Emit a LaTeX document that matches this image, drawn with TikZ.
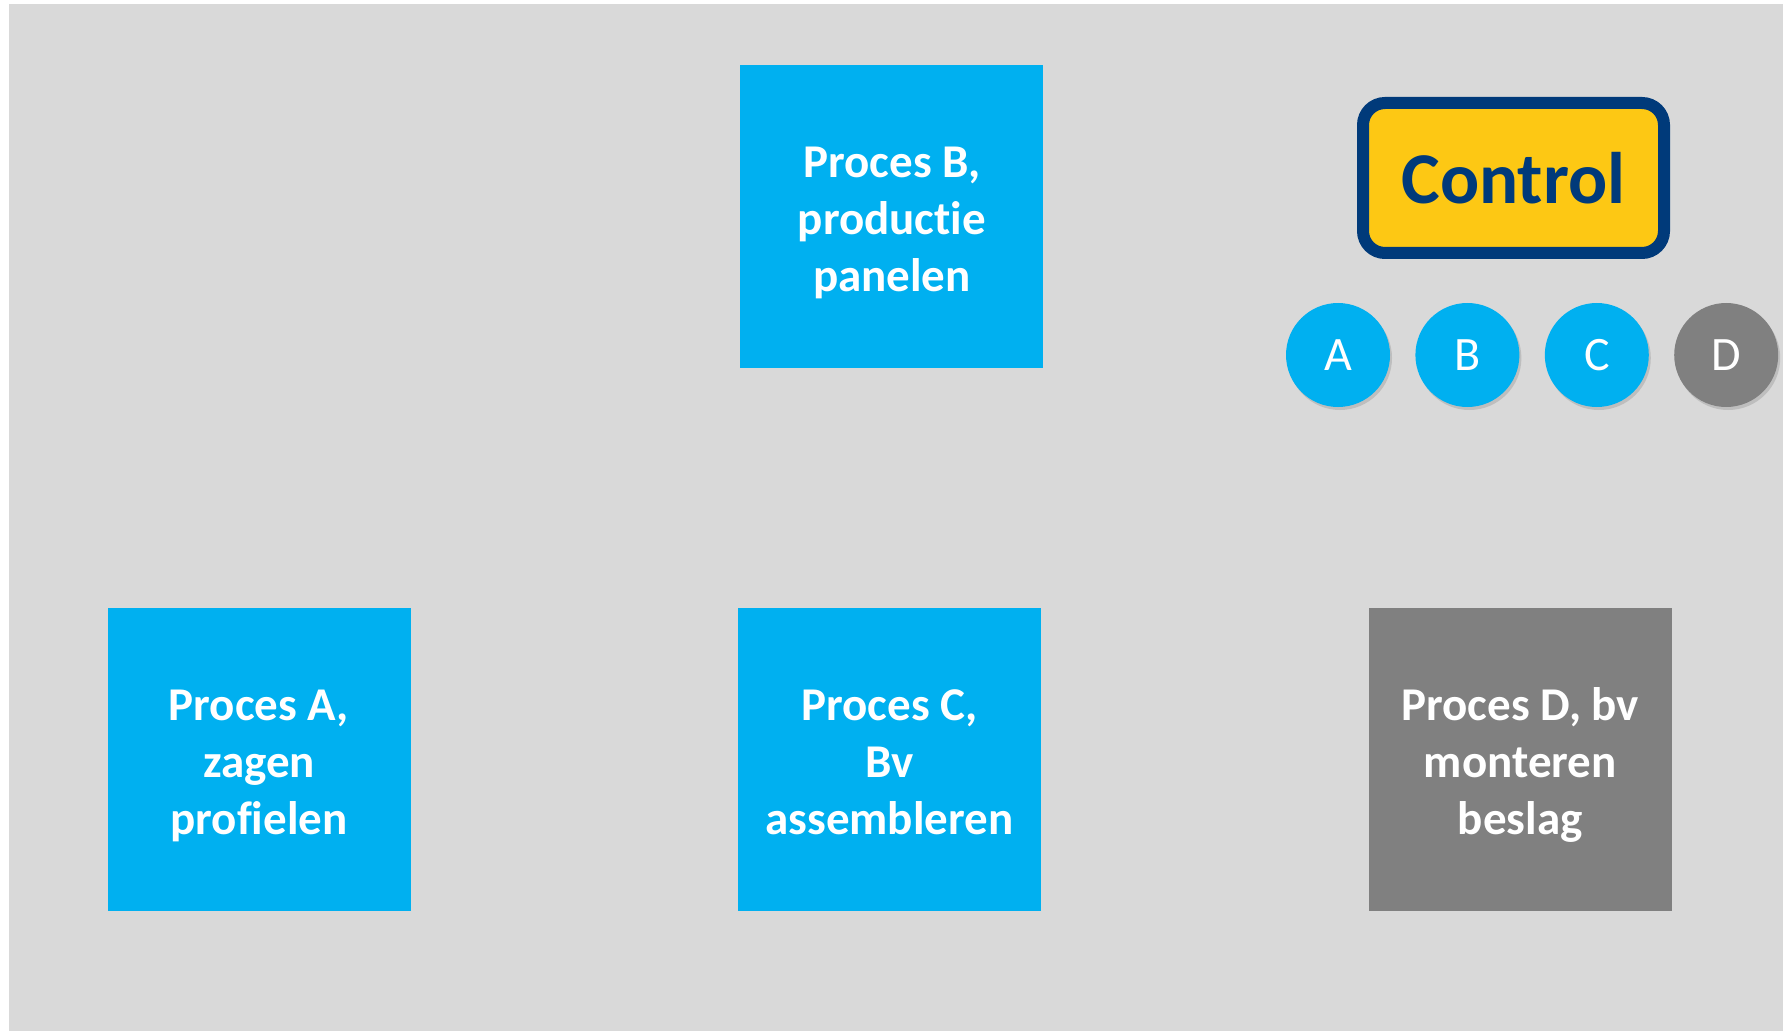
\documentclass[tikz,border=0pt]{standalone}
\usepackage{fontspec}
\setmainfont{Carlito}[RawFeature={-liga}]
\usetikzlibrary{positioning}
\usetikzlibrary{shadows}
\definecolor{procblue}{HTML}{00B0F0}
\definecolor{procgray}{HTML}{808080}
\definecolor{bggray}{HTML}{D9D9D9}
\definecolor{ctrlyellow}{HTML}{FDC814}
\definecolor{ctrlnavy}{HTML}{003A7A}
\newcommand{\ProcFont}{\fontsize{47}{57}\selectfont\bfseries}
\tikzstyle{proc} = [rectangle, fill=procblue, text=white, minimum size=303pt, inner sep=0pt, align=center, text height=150pt, text depth=0pt, font=\ProcFont]
\tikzstyle{procoff} = [proc, fill=procgray]
\tikzstyle{ctrl} = [rectangle, rounded corners=22pt, fill=ctrlyellow, draw=ctrlnavy, line width=12pt, minimum width=301pt, minimum height=150pt, text=ctrlnavy, font=\fontsize{73}{80}\selectfont\bfseries]
\tikzstyle{led} = [circle, fill=procblue, text=white, minimum size=104pt, inner sep=0pt, font=\fontsize{48}{50}\selectfont, drop shadow={shadow xshift=2pt, shadow yshift=-3pt, opacity=0.3}, node distance=25pt]
\tikzstyle{ledoff} = [led, fill=procgray]

\begin{document}
\begin{tikzpicture}[x=1pt, y=-1pt]
\useasboundingbox (0,0) rectangle (1783,1032);
\fill[bggray] (9,4) rectangle (1783,1031);

% Define nodes
\node[proc]                                 (pa) at (259,759.5) {Proces A,\\zagen\\profielen};
\node[proc, right = 327pt of pa]            (pc) {Proces C,\\Bv\\assembleren};
\node[procoff, right = 327.5pt of pc]       (pd) {Proces D, bv\\monteren\\beslag};
\node[proc, above = 240pt of pc, xshift=2.5pt] (pb) {Proces B,\\productie\\panelen};

\node[ctrl]                                 (ctrl) at (1513.5,178) {Control};
\node[led]                                  (la) at (1338,355) {A};
\node[led, right = of la]                   (lb) {B};
\node[led, right = of lb]                   (lc) {C};
\node[ledoff, right = of lc]                (ld) {D};

\end{tikzpicture}
\end{document}
